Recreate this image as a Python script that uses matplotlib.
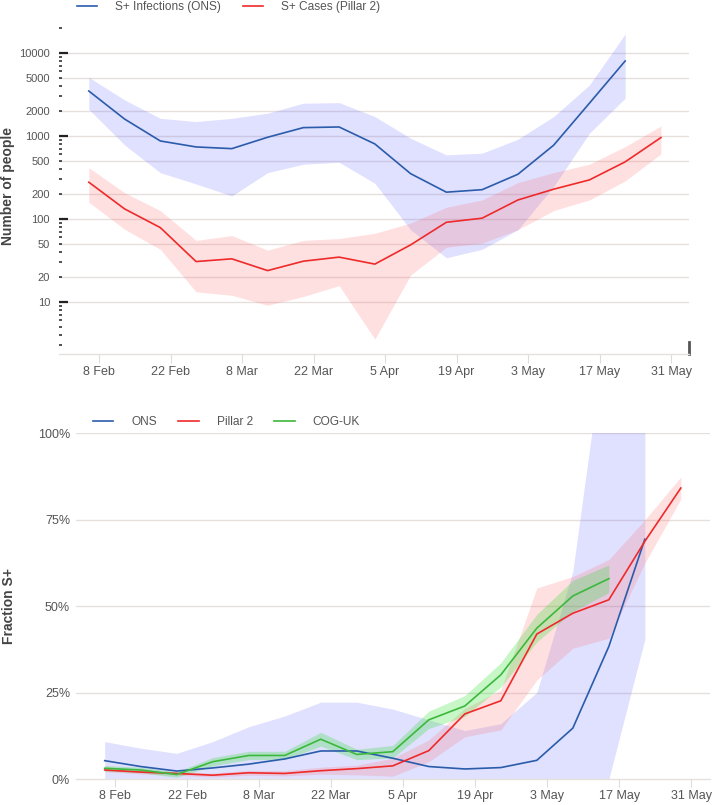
import matplotlib
matplotlib.use("Agg")
import matplotlib.pyplot as plt
import matplotlib.dates as mdates
import matplotlib.ticker as mticker
import pandas as pd

plt.rcParams['font.family'] = ['Liberation Sans', 'DejaVu Sans']

# weekly dates
dates_ons = pd.date_range("2021-02-06", periods=16, freq="7D")
dates_p2 = pd.date_range("2021-02-06", periods=17, freq="7D")
dates_cog = pd.date_range("2021-02-06", periods=15, freq="7D")

# top panel: number of S+ people
ons_n = [3480, 1600, 870, 737, 703, 964, 1260, 1283, 801, 351, 210, 225, 345, 773, 2480, 8010]
ons_n_hi = [5090, 2720, 1630, 1490, 1630, 1880, 2480, 2520, 1710, 938, 590, 620, 912, 1710, 4110, 16900]
ons_n_lo = [2100, 780, 361, 264, 189, 361, 456, 482, 269, 74, 34, 43, 74, 246, 1080, 2850]

p2_n = [277, 132, 78.5, 30.6, 33, 23.8, 30.9, 34.6, 28.5, 48.6, 91, 102, 169, 228, 295, 487, 955]
p2_n_hi = [415, 207, 126, 55, 63, 42, 55, 58, 67, 89, 138, 169, 274, 361, 456, 743, 1318]
p2_n_lo = [159, 75, 43, 13.2, 12, 9.1, 11.6, 15.7, 3.55, 21, 45.6, 51, 74, 126, 169, 287, 607]

# bottom panel: fraction S+
ons_f = [0.053, 0.036, 0.023, 0.032, 0.043, 0.058, 0.081, 0.081, 0.060, 0.036, 0.029, 0.033, 0.054, 0.147, 0.383, 0.693]
ons_f_hi = [0.108, 0.089, 0.074, 0.108, 0.151, 0.182, 0.222, 0.222, 0.202, 0.171, 0.14, 0.16, 0.25, 0.60, 1.36, 1.30]
ons_f_lo = [0, 0, 0, 0, 0, 0, 0, 0, 0, 0, 0, 0, 0, 0, 0, 0.404]

p2_f = [0.026, 0.020, 0.016, 0.011, 0.018, 0.016, 0.024, 0.030, 0.038, 0.082, 0.188, 0.226, 0.419, 0.479, 0.518, 0.687, 0.841]
p2_f_hi = [0.031, 0.025, 0.021, 0.017, 0.025, 0.024, 0.034, 0.040, 0.060, 0.113, 0.204, 0.257, 0.552, 0.585, 0.634, 0.749, 0.873]
p2_f_lo = [0.021, 0.015, 0.011, 0.006, 0.011, 0.009, 0.014, 0.012, 0.008, 0.050, 0.122, 0.142, 0.286, 0.378, 0.407, 0.624, 0.809]

cog_f = [0.031, 0.026, 0.013, 0.050, 0.068, 0.068, 0.115, 0.071, 0.079, 0.171, 0.211, 0.301, 0.436, 0.529, 0.579]
cog_f_err = [0.008, 0.008, 0.008, 0.012, 0.012, 0.012, 0.02, 0.015, 0.018, 0.025, 0.03, 0.035, 0.04, 0.045, 0.04]

tick_dates = pd.date_range("2021-02-08", "2021-05-31", freq="14D")
tick_labels = ["8 Feb", "22 Feb", "8 Mar", "22 Mar", "5 Apr", "19 Apr", "3 May", "17 May", "31 May"]

top_major = [10, 100, 1000, 10000]
top_labeled_minor = [20, 50, 200, 500, 2000, 5000]

BLUE = "#2a5caa"
RED = "#ee2a2a"
GREEN = "#3cb83c"
GRID = "#e6e0dc"
TXT = "#555555"

W, H = 714, 805
fig = plt.figure(figsize=(W / 100, H / 100), dpi=100)


def px_axes(l, t, r, b):
    return fig.add_axes([l / W, 1 - b / H, (r - l) / W, (b - t) / H])


def style_x(ax, x0, x1, ticklen):
    ax.set_xlim(mdates.date2num(pd.Timestamp(x0)), mdates.date2num(pd.Timestamp(x1)))
    ax.set_xticks(mdates.date2num(tick_dates))
    ax.set_xticklabels(tick_labels)
    ax.tick_params(axis='x', length=ticklen, width=0.8, color="#dddddd",
                   labelcolor=TXT, labelsize=9, pad=2)
    for s in ["top", "right", "left"]:
        ax.spines[s].set_visible(False)
    ax.spines["bottom"].set_color(GRID)
    ax.spines["bottom"].set_linewidth(1)


# ---------------- top panel ----------------
ax1 = px_axes(59, 23, 689, 354)
ax1.set_yscale('log')
ax1.set_ylim(2.35, 23000)
ax1.fill_between(dates_ons, ons_n_lo, ons_n_hi, color="#6464ff", alpha=0.2, lw=0)
ax1.fill_between(dates_p2, p2_n_lo, p2_n_hi, color="#ff6464", alpha=0.2, lw=0)
ax1.plot(dates_ons, ons_n, color=BLUE, lw=1.2, label="S+ Infections (ONS)")
ax1.plot(dates_p2, p2_n, color=RED, lw=1.2, label="S+ Cases (Pillar 2)")
style_x(ax1, "2021-01-31 04:00", "2021-06-03 12:00", 6.5)

for v in top_major + top_labeled_minor:
    ax1.axhline(v, color=GRID, lw=1, zorder=0)

minor = [m * 10 ** k for k in range(0, 5) for m in range(2, 10) if m * 10 ** k < 23000]
ax1.yaxis.set_major_locator(mticker.FixedLocator(top_major))
ax1.yaxis.set_major_formatter(mticker.FixedFormatter([str(v) for v in top_major]))
ax1.yaxis.set_minor_locator(mticker.FixedLocator(minor))
ax1.yaxis.set_minor_formatter(mticker.FuncFormatter(
    lambda v, p: str(int(round(v))) if int(round(v)) in top_labeled_minor else ""))
ax1.tick_params(axis='y', which='major', direction='in', length=6.5, width=1.6,
                color="#222222", labelcolor=TXT, labelsize=8, pad=6.5)
ax1.tick_params(axis='y', which='minor', direction='in', length=2.2, width=1.1,
                color="#222222", labelcolor=TXT, labelsize=8, pad=6.5)
# short dark bar at the right end of the axis line
ax1.plot([1, 1], [0, 0.035], color="#555555", lw=2, transform=ax1.transAxes, clip_on=False)

fig.text(8 / W, 1 - 186 / H, "Number of people", rotation=90, ha='center', va='center',
         fontsize=10, fontweight='bold', color="#444444")
ax1.legend(loc='center left', bbox_to_anchor=(77 / W, 1 - 7 / H), bbox_transform=fig.transFigure,
           ncol=2, frameon=False, fontsize=8.6, labelcolor=TXT, handlelength=1.7,
           handletextpad=1.5, columnspacing=1.8, borderpad=0, borderaxespad=0)

# ---------------- bottom panel ----------------
ax2 = px_axes(76, 433, 710, 779)
ax2.set_ylim(0, 1)
ax2.fill_between(dates_ons, ons_f_lo, ons_f_hi, color="#6464ff", alpha=0.2, lw=0)
ax2.fill_between(dates_p2, p2_f_lo, p2_f_hi, color="#ff6464", alpha=0.2, lw=0)
cog_lo = [c - e for c, e in zip(cog_f, cog_f_err)]
cog_hi = [c + e for c, e in zip(cog_f, cog_f_err)]
ax2.fill_between(dates_cog, cog_lo, cog_hi, color="#22dd22", alpha=0.25, lw=0)
ax2.plot(dates_ons, ons_f, color=BLUE, lw=1.2, label="ONS")
ax2.plot(dates_p2, p2_f, color=RED, lw=1.2, label="Pillar 2")
ax2.plot(dates_cog, cog_f, color=GREEN, lw=1.2, label="COG-UK")
style_x(ax2, "2021-01-31 10:00", "2021-06-03 16:00", 5.8)

ax2.set_yticks([0, 0.25, 0.5, 0.75, 1.0])
ax2.yaxis.set_major_formatter(mticker.PercentFormatter(1.0, decimals=0))
ax2.tick_params(axis='y', length=0, labelcolor=TXT, labelsize=9, pad=4.3)
for v in [0.25, 0.5, 0.75, 1.0]:
    ax2.axhline(v, color=GRID, lw=1, zorder=0)

fig.text(9 / W, 1 - 606 / H, "Fraction S+", rotation=90, ha='center', va='center',
         fontsize=10, fontweight='bold', color="#444444")
ax2.legend(loc='center left', bbox_to_anchor=(93 / W, 1 - 422 / H), bbox_transform=fig.transFigure,
           ncol=3, frameon=False, fontsize=8.6, labelcolor=TXT, handlelength=1.7,
           handletextpad=1.5, columnspacing=1.8, borderpad=0, borderaxespad=0)

fig.savefig("out.png", dpi=100)
